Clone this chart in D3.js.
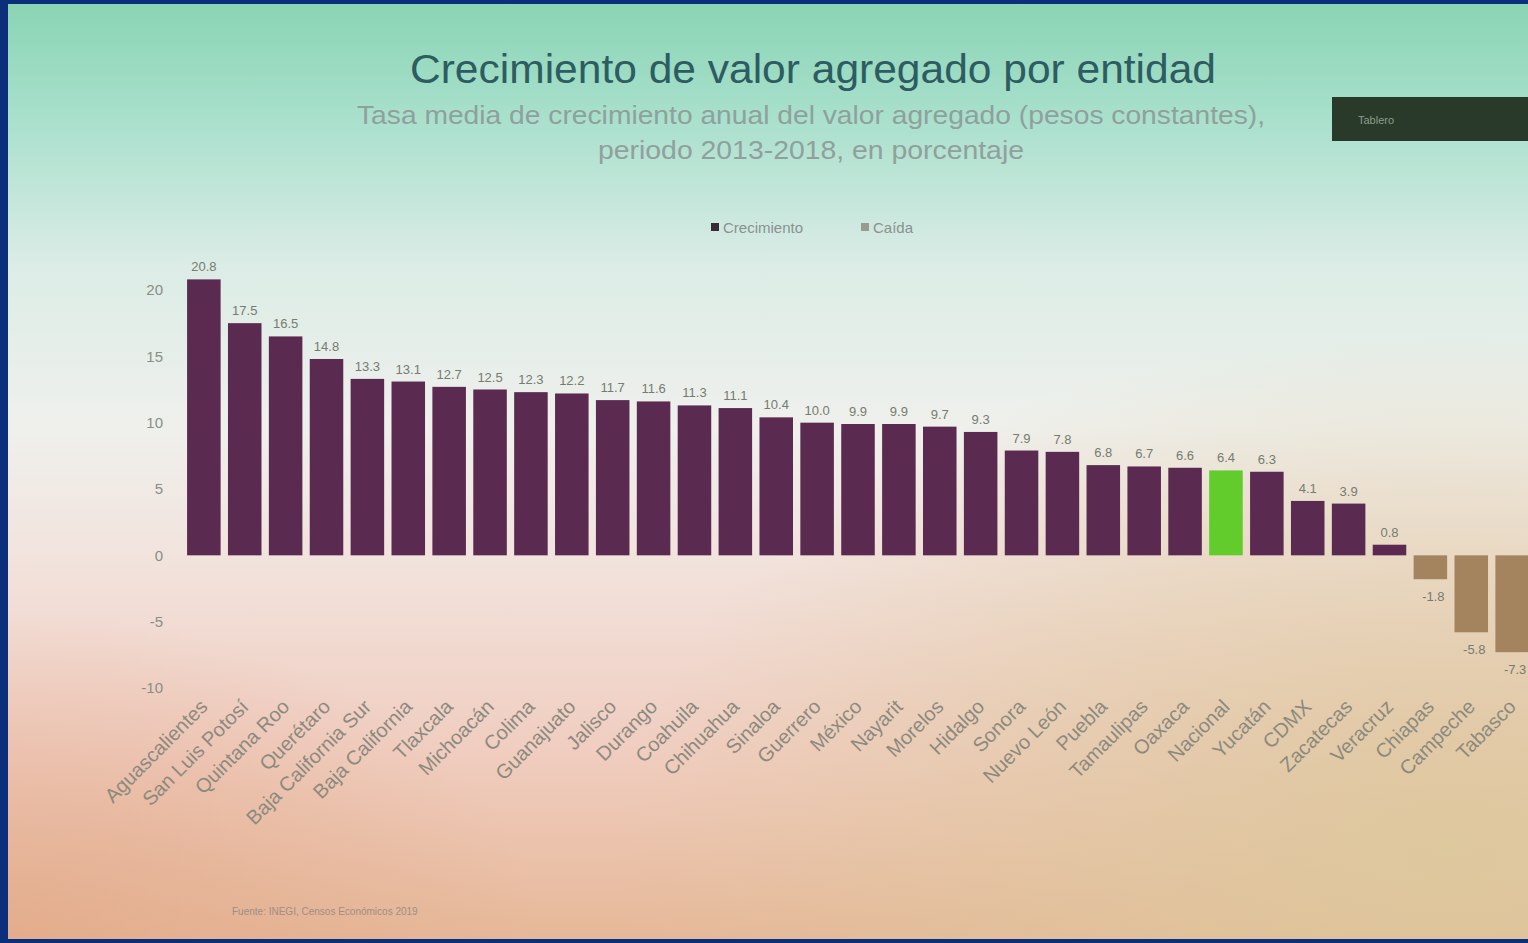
<!DOCTYPE html>
<html>
<head>
<meta charset="utf-8">
<script src="https://cdn.jsdelivr.net/npm/d3@7"></script>
<style>
  html, body { margin: 0; padding: 0; background: #0b2f7a; overflow: hidden; }
  svg { display: block; font-family: "Liberation Sans", Arial, sans-serif; }
</style>
</head>
<body>
<div id="chart"></div>
<script>
// --- datos ---
const entidades = [
  "Aguascalientes", "San Luis Potosí", "Quintana Roo", "Querétaro", "Baja California Sur",
  "Baja California", "Tlaxcala", "Michoacán", "Colima", "Guanajuato", "Jalisco", "Durango",
  "Coahuila", "Chihuahua", "Sinaloa", "Guerrero", "México", "Nayarit", "Morelos", "Hidalgo",
  "Sonora", "Nuevo León", "Puebla", "Tamaulipas", "Oaxaca", "Nacional", "Yucatán", "CDMX",
  "Zacatecas", "Veracruz", "Chiapas", "Campeche", "Tabasco"
];
const crecimiento = [
  20.8, 17.5, 16.5, 14.8, 13.3, 13.1, 12.7, 12.5, 12.3, 12.2, 11.7, 11.6,
  11.3, 11.1, 10.4, 10.0, 9.9, 9.9, 9.7, 9.3, 7.9, 7.8, 6.8, 6.7, 6.6, 6.4,
  6.3, 4.1, 3.9, 0.8, -1.8, -5.8, -7.3
];
const yTicks = [20, 15, 10, 5, 0, -5, -10];
const leyenda = ["Crecimiento", "Caída"];

const W = 1528, H = 943;
const colPos = "#5a2a50", colNeg = "#a4845e", colNac = "#62cc2c";

const svg = d3.select("#chart").append("svg").attr("width", W).attr("height", H);
const defs = svg.append("defs");

// fondo (foto de pantalla)
const gv = defs.append("linearGradient").attr("id", "bg").attr("x1", 0).attr("y1", 0).attr("x2", 0).attr("y2", 1);
[[0, "#8ad4b4"], [0.12, "#a8e0cc"], [0.28, "#dcece6"], [0.45, "#eff0ec"], [0.6, "#f2e2dc"],
 [0.8, "#f0cdc0"], [1, "#e6b898"]].forEach(s => gv.append("stop").attr("offset", s[0]).attr("stop-color", s[1]));
const gr = defs.append("radialGradient").attr("id", "warm").attr("cx", 0.95).attr("cy", 0.9).attr("r", 0.55);
gr.append("stop").attr("offset", 0).attr("stop-color", "#dcc89c").attr("stop-opacity", 0.9);
gr.append("stop").attr("offset", 1).attr("stop-color", "#dcc89c").attr("stop-opacity", 0);
const gl = defs.append("radialGradient").attr("id", "warmL").attr("cx", 0.0).attr("cy", 1.0).attr("r", 0.35);
gl.append("stop").attr("offset", 0).attr("stop-color", "#e2a888").attr("stop-opacity", 0.7);
gl.append("stop").attr("offset", 1).attr("stop-color", "#e2a888").attr("stop-opacity", 0);

svg.append("rect").attr("width", W).attr("height", H).attr("fill", "#0b2f7a");
svg.append("rect").attr("x", 8).attr("y", 4).attr("width", W - 8).attr("height", H - 8).attr("fill", "url(#bg)");
svg.append("rect").attr("x", 8).attr("y", 4).attr("width", W - 8).attr("height", H - 8).attr("fill", "url(#warm)");
svg.append("rect").attr("x", 8).attr("y", 4).attr("width", W - 8).attr("height", H - 8).attr("fill", "url(#warmL)");

// titulos
svg.append("text").attr("x", 813).attr("y", 83).attr("text-anchor", "middle")
  .attr("font-size", 41).attr("fill", "#2d5c62")
  .attr("textLength", 806).attr("lengthAdjust", "spacingAndGlyphs")
  .text("Crecimiento de valor agregado por entidad");
svg.append("text").attr("x", 811).attr("y", 124).attr("text-anchor", "middle")
  .attr("font-size", 26).attr("fill", "#90a09c")
  .attr("textLength", 908).attr("lengthAdjust", "spacingAndGlyphs")
  .text("Tasa media de crecimiento anual del valor agregado (pesos constantes),");
svg.append("text").attr("x", 811).attr("y", 159).attr("text-anchor", "middle")
  .attr("font-size", 26).attr("fill", "#90a09c")
  .attr("textLength", 426).attr("lengthAdjust", "spacingAndGlyphs")
  .text("periodo 2013-2018, en porcentaje");

// caja oscura arriba a la derecha
svg.append("rect").attr("x", 1332).attr("y", 97).attr("width", 200).attr("height", 44).attr("fill", "#2a3a2a");
svg.append("text").attr("x", 1358).attr("y", 124).attr("font-size", 11).attr("fill", "#8e9a88").text("Tablero");

// leyenda
const leg = svg.append("g").attr("transform", "translate(711,228)");
leyenda.forEach((t, i) => {
  const gx = i * 150;
  leg.append("rect").attr("x", gx).attr("y", -5).attr("width", 8).attr("height", 8)
    .attr("fill", i === 0 ? "#3a2a34" : "#9a9a90");
  leg.append("text").attr("x", gx + 12).attr("y", 5).attr("font-size", 15).attr("fill", "#8a9290").text(t);
});

// escalas
const x = d3.scaleBand().domain(entidades).range([183, 1533]).paddingInner(0.18).paddingOuter(0.1);
const y = d3.scaleLinear().domain([-10, 20]).range([688, 290]);

// eje y (solo etiquetas)
const yAxis = svg.append("g").attr("transform", "translate(167,0)")
  .call(d3.axisLeft(y).tickValues(yTicks).tickSize(0).tickPadding(4).tickFormat(d => String(d)));
yAxis.select(".domain").remove();
yAxis.selectAll("text").attr("font-size", 15).attr("fill", "#8a8e86");

// barras
const color = (d, i) => entidades[i] === "Nacional" ? colNac : (d < 0 ? colNeg : colPos);
svg.append("g").selectAll("rect").data(crecimiento).join("rect")
  .attr("x", (d, i) => x(entidades[i]))
  .attr("width", x.bandwidth())
  .attr("y", d => y(Math.max(0, d)))
  .attr("height", d => Math.abs(y(d) - y(0)))
  .attr("fill", color);

// etiquetas de valor
svg.append("g").selectAll("text").data(crecimiento).join("text")
  .attr("x", (d, i) => x(entidades[i]) + x.bandwidth() / 2 + (d < 0 ? 3 : 0))
  .attr("y", d => d < 0 ? y(d) + 22 : y(d) - 8)
  .attr("text-anchor", "middle")
  .attr("font-size", 13).attr("fill", "#767c70")
  .text(d => d.toFixed(1));

// etiquetas eje x
svg.append("g").selectAll("text").data(entidades).join("text")
  .attr("transform", d => `translate(${x(d) + x.bandwidth() / 2 + 5},${708}) rotate(-45)`)
  .attr("text-anchor", "end")
  .attr("font-size", 20).attr("fill", "#8c8a7e")
  .text(d => d);

// fuente
svg.append("text").attr("x", 232).attr("y", 915).attr("font-size", 10).attr("fill", "#a08e84")
  .text("Fuente: INEGI, Censos Económicos 2019");
</script>
</body>
</html>
